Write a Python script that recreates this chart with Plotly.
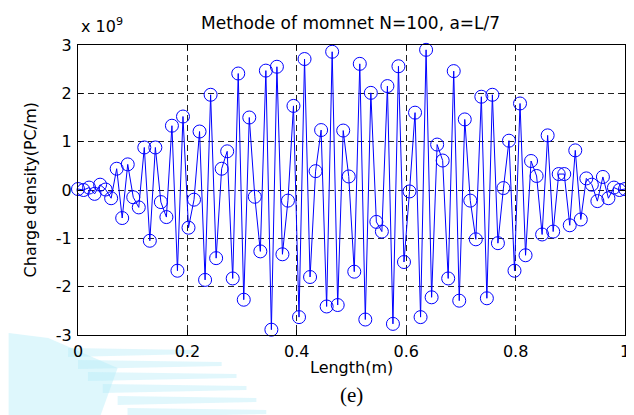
import numpy as np
import plotly.graph_objects as go

# Data (charge density in units of 1e9 PC/m), N=100 segments on L=1 m
length_m = list(np.linspace(0, 1, 100))
charge_density = [
    0.02, 0.00, 0.05, -0.08, 0.11, 0.01, -0.17, 0.44, -0.58, 0.53,
    -0.15, -0.36, 0.88, -1.05, 0.88, -0.25, -0.56, 1.33, -1.67, 1.52,
    -0.78, -0.20, 1.21, -1.86, 1.97, -1.41, 0.44, 0.80, -1.83, 2.41,
    -2.27, 1.50, -0.14, -1.27, 2.47, -2.89, 2.55, -1.33, -0.22, 1.74,
    -2.63, 2.71, -1.80, 0.39, 1.24, -2.41, 2.86, -2.38, 1.23, 0.28,
    -1.69, 2.61, -2.68, 2.01, -0.66, -0.86, 2.15, -2.77, 2.56, -1.49,
    -0.03, 1.60, -2.63, 2.90, -2.22, 0.94, 0.61, -1.83, 2.46, -2.29,
    1.46, -0.22, -1.02, 1.93, -2.24, 1.97, -1.10, 0.04, 1.02, -1.67,
    1.79, -1.35, 0.60, 0.29, -0.92, 1.13, -0.86, 0.33, 0.33, -0.73,
    0.82, -0.61, 0.24, 0.11, -0.23, 0.27, -0.17, 0.05, 0.00, 0.02,
]
x_ticks = [0, 0.2, 0.4, 0.6, 0.8, 1]
x_tick_labels = ["0", "0.2", "0.4", "0.6", "0.8", "1"]
y_ticks = [-3, -2, -1, 0, 1, 2, 3]
y_tick_labels = ["-3", "-2", "-1", "0", "1", "2", "3"]

W, H = 634, 415
L, R, T, B = 70, 12, 37, 88
pw, ph = W - L - R, H - T - B
SANS = "DejaVu Sans, Liberation Sans, Arial"

def px(x):
    return (x - L) / pw

def py(y):
    return (H - B - y) / ph

fig = go.Figure()
fig.add_trace(go.Scatter(
    x=length_m, y=charge_density, mode="lines+markers",
    line=dict(color="#0000ff", width=1),
    marker=dict(symbol="circle-open", size=13, color="#0000ff", line=dict(width=1, color="#0000ff")),
    showlegend=False, cliponaxis=False,
))

axis_common = dict(
    showline=True, linecolor="black", linewidth=1, mirror="ticks",
    ticks="inside", ticklen=5, tickcolor="black",
    showgrid=True, gridcolor="#222222", griddash="6px,4px", gridwidth=1,
    zeroline=False,
    tickfont=dict(family=SANS, size=16, color="black"),
)

fig.update_xaxes(range=[0, 1], tickvals=x_ticks, ticktext=x_tick_labels, ticklabelstandoff=2, **axis_common)
fig.update_yaxes(range=[-3, 3], tickvals=y_ticks, ticktext=y_tick_labels, ticklabelstandoff=2, **axis_common)

# decorative light-cyan streaks at bottom-left
shapes = []
shapes.append(dict(type="path", xref="paper", yref="paper", layer="below",
                   path=f"M {px(0)},{py(325)} L {px(40)},{py(330)} L {px(110)},{py(360)} L {px(90)},{py(415)} L {px(0)},{py(415)} Z",
                   fillcolor="rgba(190,240,250,0.5)", line=dict(width=0)))
for (x0, x1, y0, th) in [(60, 190, 340, 6), (70, 215, 352, 6), (80, 230, 364, 6), (95, 240, 376, 6),
                          (110, 250, 388, 6), (120, 260, 400, 6), (130, 250, 410, 5)]:
    shapes.append(dict(type="path", xref="paper", yref="paper", layer="below",
                       path=f"M {px(x0)},{py(y0)} L {px(x1)},{py(y0+2)} L {px(x1)},{py(y0+th)} L {px(x0)},{py(y0+th+3)} Z",
                       fillcolor="rgba(180,235,248,0.4)", line=dict(width=0)))

annotations = [
    dict(text="Methode of momnet N=100, a=L/7", xref="paper", yref="paper",
         x=px(345), y=py(15), xanchor="center", yanchor="middle", showarrow=False,
         font=dict(family=SANS, size=17, color="black")),
    dict(text="x 10<sup>9</sup>", xref="paper", yref="paper",
         x=px(71), y=py(17), xanchor="left", yanchor="middle", showarrow=False,
         font=dict(family=SANS, size=16, color="black")),
    dict(text="Charge density(PC/m)", xref="paper", yref="paper", textangle=-90,
         x=px(22), y=py(182), xanchor="center", yanchor="middle", showarrow=False,
         font=dict(family=SANS, size=16, color="black")),
    dict(text="Length(m)", xref="paper", yref="paper",
         x=px(346), y=py(359), xanchor="center", yanchor="middle", showarrow=False,
         font=dict(family=SANS, size=16, color="black")),
    dict(text="(e)", xref="paper", yref="paper",
         x=px(346), y=py(387), xanchor="center", yanchor="middle", showarrow=False,
         font=dict(family="Liberation Serif, Times New Roman", size=21, color="black")),
]

fig.update_layout(
    width=W, height=H, margin=dict(l=L, r=R, t=T, b=B),
    paper_bgcolor="white", plot_bgcolor="white",
    shapes=shapes, annotations=annotations,
)

fig.write_html("out.html")
